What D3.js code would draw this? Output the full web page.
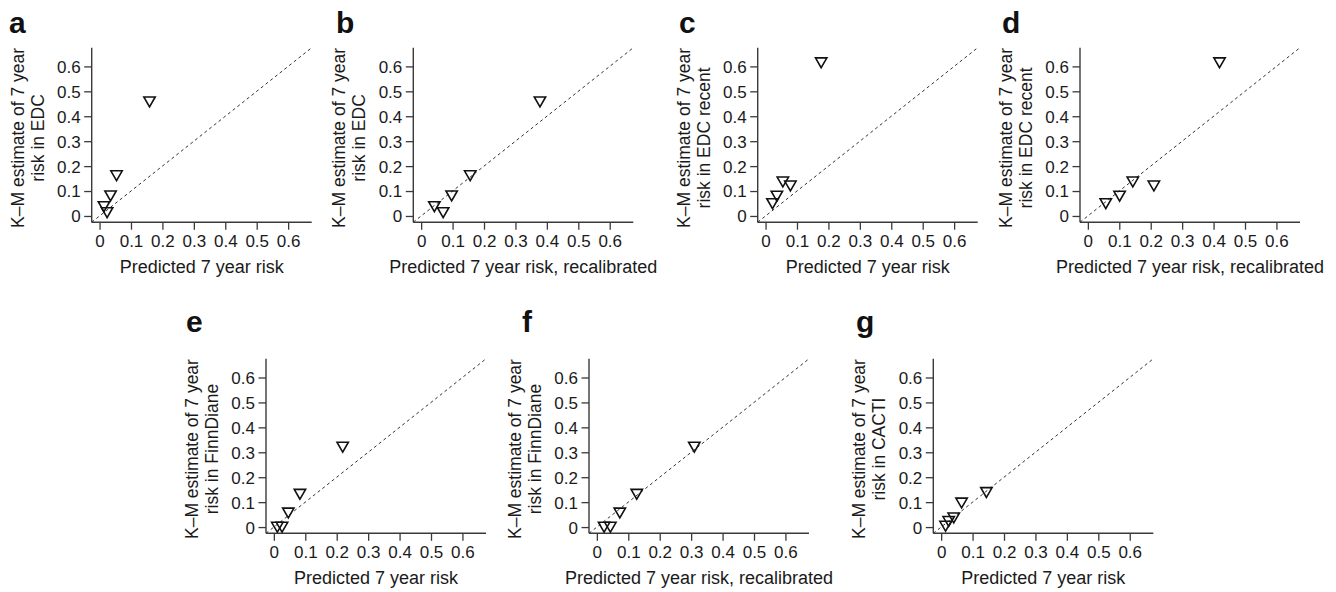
<!DOCTYPE html>
<html>
<head>
<meta charset="utf-8">
<script src="https://cdn.jsdelivr.net/npm/d3@7/dist/d3.min.js"></script>
<style>
  html, body { margin: 0; padding: 0; background: #fff; }
  svg { display: block; }
  text { font-family: "Liberation Sans", Arial, Helvetica, sans-serif; fill: #1a1a1a; }
</style>
</head>
<body>
<svg id="chart" width="1336" height="592"></svg>
<script>
// ---------- data ----------
const panelLetters = ["a", "b", "c", "d", "e", "f", "g"];
const xTitles = [
  "Predicted 7 year risk",
  "Predicted 7 year risk, recalibrated",
  "Predicted 7 year risk",
  "Predicted 7 year risk, recalibrated",
  "Predicted 7 year risk",
  "Predicted 7 year risk, recalibrated",
  "Predicted 7 year risk"
];
const yTitleTop = "K\u2013M estimate of 7 year";
const yTitleBottom = [
  "risk in EDC", "risk in EDC",
  "risk in EDC recent", "risk in EDC recent",
  "risk in FinnDiane", "risk in FinnDiane",
  "risk in CACTI"
];
const tickValues = [0, 0.1, 0.2, 0.3, 0.4, 0.5, 0.6];
const tickLabels = ["0", "0.1", "0.2", "0.3", "0.4", "0.5", "0.6"];

// predicted (x) and observed K-M (y) per panel
const predA = [0.159, 0.054, 0.035, 0.014, 0.024];
const obsA  = [0.464, 0.168, 0.087, 0.044, 0.020];
const predB = [0.378, 0.156, 0.097, 0.042, 0.070];
const obsB  = [0.464, 0.168, 0.087, 0.044, 0.020];
const predC = [0.177, 0.055, 0.079, 0.036, 0.022];
const obsC  = [0.621, 0.143, 0.127, 0.086, 0.056];
const predD = [0.419, 0.143, 0.210, 0.101, 0.057];
const obsD  = [0.621, 0.143, 0.127, 0.086, 0.056];
const predE = [0.219, 0.083, 0.046, 0.026, 0.011];
const obsE  = [0.327, 0.138, 0.063, 0.006, 0.006];
const predF = [0.310, 0.127, 0.073, 0.023, 0.043];
const obsF  = [0.327, 0.138, 0.063, 0.006, 0.006];
const predG = [0.144, 0.065, 0.040, 0.024, 0.014];
const obsG  = [0.145, 0.103, 0.043, 0.029, 0.010];

const predicted = [predA, predB, predC, predD, predE, predF, predG];
const observed  = [obsA, obsB, obsC, obsD, obsE, obsF, obsG];
const domain = [-0.025, 0.675];

// ---------- layout ----------
const plotW = 220, plotH = 174.5;
const origins = [
  [91.7, 47.7], [413.3, 47.7], [757.7, 47.7], [1080, 47.7],
  [266, 358.8], [589, 358.8], [933.3, 358.8]
];
const letterPos = [
  [9, 33], [336, 33], [679, 33], [1002, 33],
  [186, 332], [522, 332], [856, 332]
];

const svg = d3.select("#chart");
const axisColor = "#3a3a3a";

panelLetters.forEach((letter, i) => {
  const [ox, oy] = origins[i];
  const x = d3.scaleLinear().domain(domain).range([0, plotW]);
  const y = d3.scaleLinear().domain(domain).range([plotH, 0]);
  const g = svg.append("g").attr("transform", `translate(${ox},${oy})`);

  // panel letter
  svg.append("text")
    .attr("x", letterPos[i][0]).attr("y", letterPos[i][1])
    .attr("font-size", 30).attr("font-weight", "bold")
    .style("fill", "#111")
    .text(letter);

  // axes lines (L shape)
  g.append("line").attr("x1", 0).attr("x2", 0).attr("y1", 0).attr("y2", plotH)
    .attr("stroke", axisColor).attr("stroke-width", 1.4);
  g.append("line").attr("x1", 0).attr("x2", plotW).attr("y1", plotH).attr("y2", plotH)
    .attr("stroke", axisColor).attr("stroke-width", 1.4);

  // x axis
  const xa = g.append("g").attr("transform", `translate(0,${plotH})`)
    .call(d3.axisBottom(x).tickValues(tickValues).tickFormat((d, k) => tickLabels[k])
      .tickSize(7.5).tickPadding(0));
  xa.selectAll("line").attr("stroke", axisColor).attr("stroke-width", 1.3);
  xa.selectAll("text").attr("font-size", 17).attr("dy", null).attr("y", 24.8)
    .style("fill", "#1a1a1a");

  // y axis
  const ya = g.append("g")
    .call(d3.axisLeft(y).tickValues(tickValues).tickFormat((d, k) => tickLabels[k])
      .tickSize(7.5).tickPadding(3.5));
  ya.selectAll("line").attr("stroke", axisColor).attr("stroke-width", 1.3);
  ya.selectAll("text").attr("font-size", 17).attr("dy", "0.35em")
    .style("fill", "#1a1a1a");
  g.selectAll(".domain").remove();
  g.selectAll("g").attr("font-family", null).attr("font-size", null);

  // identity line
  g.append("line")
    .attr("x1", x(domain[0])).attr("y1", y(domain[0]))
    .attr("x2", x(domain[1])).attr("y2", y(domain[1]))
    .attr("stroke", "#333").attr("stroke-width", 1)
    .attr("stroke-dasharray", "3,3");

  // points: open downward triangles
  const tri = d3.symbol().type(d3.symbolTriangle).size(56);
  g.selectAll("path.pt")
    .data(predicted[i].map((p, k) => ({ p, o: observed[i][k] })))
    .join("path")
    .attr("class", "pt")
    .attr("d", tri)
    .attr("transform", d => `translate(${x(d.p)},${y(d.o)}) rotate(180)`)
    .attr("fill", "none").attr("stroke", "#111").attr("stroke-width", 1.6);

  // x title
  g.append("text")
    .attr("x", plotW / 2).attr("y", plotH + 51)
    .attr("text-anchor", "middle").attr("font-size", 18)
    .text(xTitles[i]);

  // y title (two lines)
  const yc = plotH / 2 + 3;
  g.append("text")
    .attr("transform", `translate(-68,${yc}) rotate(-90)`)
    .attr("text-anchor", "middle").attr("font-size", 17.5)
    .text(yTitleTop);
  g.append("text")
    .attr("transform", `translate(-48,${yc}) rotate(-90)`)
    .attr("text-anchor", "middle").attr("font-size", 17.5)
    .text(yTitleBottom[i]);
});
</script>
</body>
</html>
